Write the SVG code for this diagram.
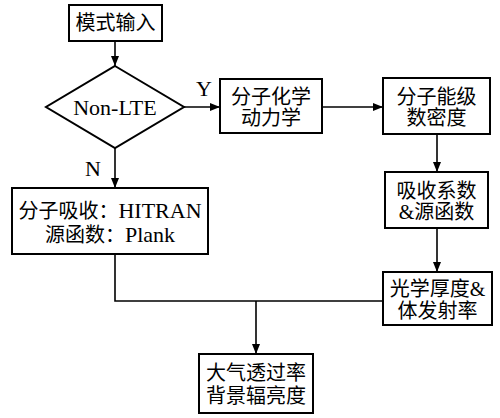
<svg xmlns="http://www.w3.org/2000/svg" width="500" height="418" viewBox="0 0 500 418">
<style>
.box{fill:#fff;stroke:#000;stroke-width:2}
.ln{fill:none;stroke:#000;stroke-width:1.6}
text{font-family:"Liberation Serif","Noto Sans CJK SC",serif;font-size:20px;fill:#000;text-anchor:middle}
.big{font-size:22px}
</style>
<defs>
<marker id="ah" viewBox="0 0 10 8" refX="10" refY="4" markerWidth="10" markerHeight="8" markerUnits="userSpaceOnUse" orient="auto">
<path d="M0,0 L10,4 L0,8 Z" fill="#000"/>
</marker>
</defs>
<rect width="500" height="418" fill="#fff"/>
<g id="connectors">
<path class="ln" d="M115,41 V66" marker-end="url(#ah)"/>
<path class="ln" d="M184,107 H220" marker-end="url(#ah)"/>
<path class="ln" d="M322,107 H383" marker-end="url(#ah)"/>
<path class="ln" d="M437,134 V172" marker-end="url(#ah)"/>
<path class="ln" d="M437,228 V272" marker-end="url(#ah)"/>
<path class="ln" d="M115,148 V188" marker-end="url(#ah)"/>
<path class="ln" d="M115,254 V301 H383"/>
<path class="ln" d="M256,301 V354" marker-end="url(#ah)"/>
<text class="big" x="204" y="96">Y</text>
<text class="big" x="93" y="176">N</text>
</g>
<g id="input">
<rect class="box" x="69" y="5" width="93" height="36"/>
<text x="115.5" y="30">模式输入</text>
</g>
<g id="nonlte">
<polygon class="box" points="115,66 184,107 115,148 46,107"/>
<text class="big" x="115" y="115">Non-LTE</text>
</g>
<g id="chem">
<rect class="box" x="220" y="79" width="102" height="54"/>
<text x="271" y="104">分子化学</text>
<text x="271" y="125">动力学</text>
</g>
<g id="density">
<rect class="box" x="383" y="78" width="107" height="56"/>
<text x="436.5" y="104">分子能级</text>
<text x="436.5" y="125">数密度</text>
</g>
<g id="absorb">
<rect class="box" x="385" y="172" width="103" height="56"/>
<text x="436.5" y="198">吸收系数</text>
<text x="436.5" y="219">&amp;源函数</text>
</g>
<g id="optical">
<rect class="box" x="383" y="272" width="109" height="53"/>
<text x="437.5" y="296">光学厚度&amp;</text>
<text x="437.5" y="318">体发射率</text>
</g>
<g id="lte">
<rect class="box" x="12" y="188" width="196" height="66"/>
<text x="110" y="218">分子吸收：<tspan class="big">HITRAN</tspan></text>
<text x="110" y="242">源函数：<tspan class="big">Plank</tspan></text>
</g>
<g id="output">
<rect class="box" x="199" y="354" width="114" height="59"/>
<text x="256" y="380">大气透过率</text>
<text x="256" y="403">背景辐亮度</text>
</g>
</svg>
